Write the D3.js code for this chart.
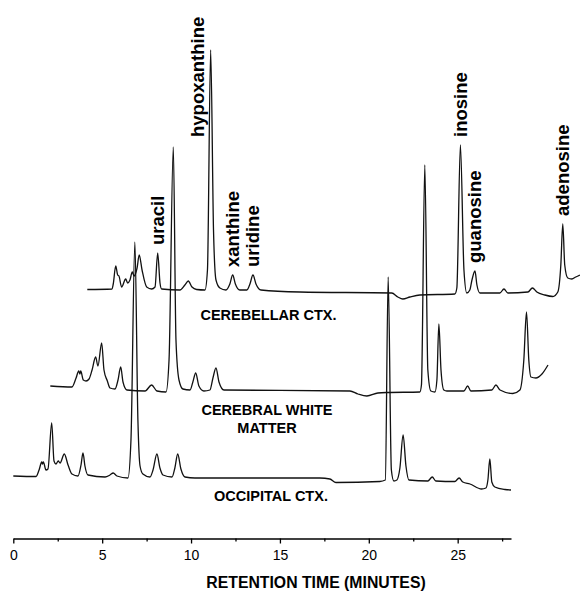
<!DOCTYPE html>
<html>
<head>
<meta charset="utf-8">
<script src="https://cdn.jsdelivr.net/npm/d3@7"></script>
<style>
  html, body { margin: 0; padding: 0; background: #ffffff; }
  svg { display: block; }
</style>
</head>
<body>
<div id="chart"></div>
<script>
// 坐标轴刻度 (分钟)
const majorTicks = [0, 5, 10, 15, 20, 25];
const minorTicks = [2.5, 7.5, 12.5, 17.5, 22.5, 27.5];

// 枕叶皮层 (OCCIPITAL CTX.)：保留时间 / 响应
const occipitalTime = [0.00, 1.28, 1.45, 1.60, 1.64, 1.69, 1.84, 1.95, 2.16, 2.29, 2.40, 2.53, 2.63, 2.87, 3.08, 3.30, 3.64, 3.81, 3.92, 4.03, 4.20, 5.16, 5.44, 5.62, 5.83, 6.45, 6.62, 6.84, 7.01, 7.13, 7.29, 7.69, 7.86, 8.08, 8.25, 8.42, 8.93, 9.09, 9.25, 9.43, 9.66, 10.22, 17.25, 17.81, 18.15, 20.62, 20.93, 21.09, 21.27, 21.41, 21.58, 21.75, 21.93, 22.09, 22.26, 23.32, 23.57, 23.77, 24.84, 25.08, 25.29, 25.69, 26.34, 26.59, 26.70, 26.81, 26.92, 27.09, 27.66, 28.00];
const occipitalSignal = [2, 1.5, 8, 16, 14, 16, 8, 9, 55, 17, 14, 17, 15, 24, 13, 4, 2, 13, 25, 12, 3, 1, 3, 5, 2, 0, 38, 236, 58, 12, 4, 1, 8, 24, 10, 3, 1, 10, 24, 9, 1, 0, 0, -1, -4.5, -3.5, -2, 201, 8, -3, -2, 10, 43, 12, -2, -3, 1, -3, -3.5, 0, -4, -6, -11, -10, -2, 19, -4, -9, -11.5, -12];

// 大脑白质 (CEREBRAL WHITE MATTER)
const whiteTime = [0.00, 1.22, 1.45, 1.60, 1.67, 1.71, 1.86, 2.01, 2.18, 2.35, 2.55, 2.68, 2.89, 3.02, 3.21, 3.36, 3.64, 3.81, 3.96, 4.09, 4.31, 5.33, 5.70, 6.00, 6.51, 6.68, 6.92, 7.07, 7.24, 7.46, 7.86, 8.02, 8.18, 8.36, 8.64, 8.98, 9.15, 9.32, 9.49, 9.77, 16.86, 17.31, 17.81, 18.43, 18.94, 20.79, 20.88, 21.07, 21.24, 21.41, 21.64, 21.75, 21.86, 21.98, 22.14, 22.31, 23.27, 23.48, 23.66, 24.84, 25.07, 25.30, 26.02, 26.42, 26.64, 26.79, 26.92, 27.04, 27.32, 27.66, 28.00];
const whiteSignal = [4, 3, 12, 19, 16, 19, 10, 9, 11, 20, 33, 24, 47, 20, 9, 2, 1, 10, 23, 8, 0, -1, 5, -1, -2, 30, 243, 50, 10, 1, 0, 8, 17, 4, -1, 0, 12, 22, 8, 0, -1, -4, -6, -3, -2.5, -2, 5, 225, 20, -1, -2, 10, 66, 20, 0, -1, -1, 4, -1, 0, 5, 0, -3.5, 0, 30, 78, 30, 13, 12, 16, 25];

// 小脑皮层 (CEREBELLAR CTX.)
const cerebellarTime = [0.00, 1.39, 1.46, 1.60, 1.71, 1.78, 1.93, 2.16, 2.27, 2.40, 2.53, 2.63, 2.80, 2.92, 3.08, 3.34, 3.62, 3.81, 3.96, 4.09, 4.18, 5.21, 5.49, 5.68, 5.89, 6.15, 6.62, 6.76, 6.94, 7.10, 7.24, 7.46, 7.80, 8.02, 8.18, 8.33, 8.58, 8.98, 9.15, 9.32, 9.49, 9.77, 11.96, 17.13, 17.47, 17.75, 18.15, 18.71, 20.68, 20.79, 20.99, 21.19, 21.35, 21.52, 21.64, 21.81, 21.92, 22.09, 23.21, 23.44, 23.66, 24.79, 25.04, 25.29, 25.74, 26.19, 26.47, 26.64, 26.75, 26.86, 27.03, 27.26, 27.48, 27.71];
const cerebellarSignal = [0.5, 1, 6, 24, 15, 14, 3, 11, 7, 10, 18, 14, 22, 35, 20, 3, 1, 3, 37, 7, 1, 0, 5, 9, 3, 0.5, 0, 20, 240, 60, 10, 2, 0, 6, 15, 6, 0, 0, 6, 15, 6, 0, -2, -3, -7, -9, -7, -5, -4, 2, 145, 20, -3, 0, 10, 19, 5, -3, -3, 1, -3, -2, 2, -2, -5, -6.5, -2, 25, 66, 25, 12, 11, 13, 15];

// 峰标注 (标在小脑皮层曲线上)
const peakNames = ['uracil', 'hypoxanthine', 'xanthine', 'uridine', 'inosine', 'guanosine', 'adenosine'];
const peakTimes = [3.96, 6.94, 8.18, 9.32, 20.99, 21.81, 26.75];

// 曲线名称
const traceNames = [['CEREBELLAR CTX.'], ['CEREBRAL WHITE', 'MATTER'], ['OCCIPITAL CTX.']];

// 画布尺寸
const width = 580;
const height = 591;
const axisY = 538.5;
const labelFont = '"Liberation Sans", Arial, sans-serif';

const colors = {
  trace: '#111111',
  axis: '#000000',
  text: '#000000'
};

// 三条曲线：水平/垂直错位排列
const traces = [
  { time: cerebellarTime, signal: cerebellarSignal, dx: 74, base: 290, labelX: 268.5, labelY: 320 },
  { time: whiteTime, signal: whiteSignal, dx: 37, base: 390, labelX: 267, labelY: 415 },
  { time: occipitalTime, signal: occipitalSignal, dx: 0, base: 478, labelX: 271, labelY: 501 }
];

const svg = d3.select('#chart')
  .append('svg')
  .attr('width', width)
  .attr('height', height);

const x = d3.scaleLinear().domain([0, 28]).range([13.3, 511]);
// 响应值 -> 相对基线的像素偏移
const y = d3.scaleLinear().domain([0, 250]).range([0, -250]);

const line = d3.line()
  .x(d => x(d[0]))
  .y(d => y(d[1]))
  .curve(d3.curveMonotoneX);

// 绘制曲线
traces.forEach((tr, i) => {
  const g = svg.append('g')
    .attr('transform', `translate(${tr.dx},${tr.base})`);

  g.append('path')
    .datum(tr.time.map((t, k) => [t, tr.signal[k]]))
    .attr('fill', 'none')
    .attr('stroke', colors.trace)
    .attr('stroke-width', 1.3)
    .attr('stroke-linejoin', 'round')
    .attr('d', line);

  // 曲线名称
  const names = traceNames[i];
  names.forEach((name, j) => {
    svg.append('text')
      .attr('x', tr.labelX)
      .attr('y', tr.labelY + j * 18)
      .attr('text-anchor', 'middle')
      .attr('font-family', labelFont)
      .attr('font-weight', 'bold')
      .attr('font-size', 14.5)
      .attr('fill', colors.text)
      .text(name);
  });
});

// 峰标注 (竖排文字)
const topTrace = traces[0];
peakNames.forEach((name, i) => {
  const t = peakTimes[i];
  const k = topTrace.time.indexOf(t);
  const px = x(t) + topTrace.dx;
  const py = topTrace.base + y(topTrace.signal[k]);
  // hypoxanthine 峰太高，文字放在峰的左侧
  const lx = name === 'hypoxanthine' ? px - 13 : px;
  const ly = name === 'hypoxanthine' ? 137 : py - 8;
  svg.append('text')
    .attr('transform', `translate(${lx},${ly}) rotate(-90)`)
    .attr('dy', '0.35em')
    .attr('text-anchor', 'start')
    .attr('font-family', labelFont)
    .attr('font-weight', 'bold')
    .attr('font-size', 18.5)
    .attr('fill', colors.text)
    .text(name);
});

// X 轴
const axis = svg.append('g')
  .attr('transform', `translate(0,${axisY})`)
  .call(d3.axisBottom(x)
    .tickValues(majorTicks)
    .tickSize(5)
    .tickSizeOuter(0)
    .tickPadding(6.5)
    .tickFormat(d3.format('d')));

axis.select('.domain').attr('stroke', colors.axis).attr('stroke-width', 1.5);
axis.selectAll('.tick line').attr('stroke', colors.axis).attr('stroke-width', 1.3);
axis.selectAll('.tick text')
  .attr('font-family', labelFont)
  .attr('font-size', 14)
  .attr('fill', colors.text);

// 次刻度
const minor = svg.append('g')
  .attr('transform', `translate(0,${axisY})`)
  .call(d3.axisBottom(x)
    .tickValues(minorTicks)
    .tickSize(3)
    .tickFormat(''));
minor.select('.domain').remove();
minor.selectAll('.tick line').attr('stroke', colors.axis).attr('stroke-width', 1.3);

// 轴标题
svg.append('text')
  .attr('x', 316)
  .attr('y', 588)
  .attr('text-anchor', 'middle')
  .attr('font-family', labelFont)
  .attr('font-weight', 'bold')
  .attr('font-size', 15.8)
  .attr('fill', colors.text)
  .text('RETENTION TIME (MINUTES)');
</script>
</body>
</html>
